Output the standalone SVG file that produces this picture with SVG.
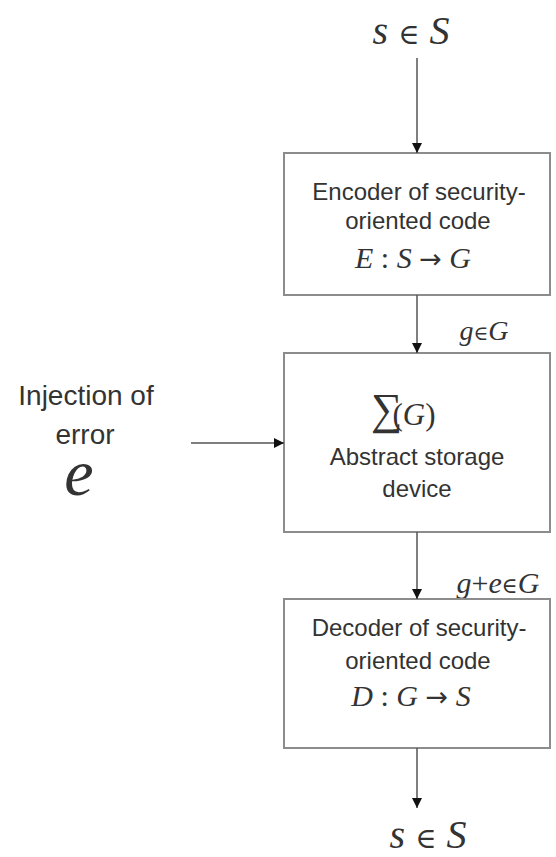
<svg xmlns="http://www.w3.org/2000/svg" width="556" height="857" viewBox="0 0 556 857">
<defs>
<marker id="ah" viewBox="0 0 10 10" refX="10" refY="5" markerWidth="10" markerHeight="10" markerUnits="userSpaceOnUse" orient="auto">
<path d="M0,0 L10,5 L0,10 z" fill="#111"/>
</marker>
</defs>
<style>
.box{fill:#fff;stroke:#8c8c8c;stroke-width:2}
.sans{font-family:"Liberation Sans",Arial,sans-serif;fill:#333;text-anchor:middle}
.math{font-family:"Liberation Serif","Times New Roman",serif;font-style:italic;fill:#333;text-anchor:middle}
.up{font-style:normal}
.el{font-style:normal;font-family:"DejaVu Serif",serif;font-size:0.72em}
.ar{font-style:normal;font-family:"DejaVu Sans",sans-serif;font-size:0.9em}
.conn line{stroke:#555;stroke-width:1.5;marker-end:url(#ah)}
</style>
<rect width="556" height="857" fill="#fff"/>
<g id="input">
<text class="math" x="411" y="44" font-size="40">s <tspan class="el">∈</tspan> S</text>
</g>
<g id="encoder">
<rect class="box" x="284" y="153" width="266" height="142"/>
<text class="sans" x="419" y="200" font-size="24">Encoder of security-</text>
<text class="sans" x="418" y="229" font-size="24">oriented code</text>
<text class="math" x="413" y="268" font-size="30">E <tspan class="up">:</tspan> S <tspan class="ar">→</tspan> G</text>
</g>
<g id="label-g">
<text class="math" x="484" y="340" font-size="28">g<tspan class="el">∈</tspan>G</text>
</g>
<g id="storage">
<rect class="box" x="284" y="353" width="266" height="179"/>
<text x="371" y="424" font-size="44" font-family="'Liberation Serif',serif" fill="#333">∑</text>
<text class="math" x="414" y="425" font-size="31" text-anchor="start"><tspan class="up">(</tspan>G<tspan class="up">)</tspan></text>
<text class="sans" x="417" y="465" font-size="24">Abstract storage</text>
<text class="sans" x="417" y="497" font-size="24">device</text>
</g>
<g id="injection">
<text class="sans" x="86" y="405" font-size="28">Injection of</text>
<text class="sans" x="85" y="444" font-size="28">error</text>
<text class="math" x="79" y="495" font-size="66">e</text>
</g>
<g id="label-ge">
<text class="math" x="498" y="593" font-size="30">g<tspan class="up">+</tspan>e<tspan class="el">∈</tspan>G</text>
</g>
<g id="decoder">
<rect class="box" x="284" y="599" width="266" height="149"/>
<text class="sans" x="419" y="636" font-size="24">Decoder of security-</text>
<text class="sans" x="418" y="669" font-size="24">oriented code</text>
<text class="math" x="411" y="706" font-size="30">D <tspan class="up">:</tspan> G <tspan class="ar">→</tspan> S</text>
</g>
<g id="output">
<text class="math" x="428" y="848" font-size="40">s <tspan class="el">∈</tspan> S</text>
</g>
<g class="conn" id="connectors">
<line x1="417" y1="58" x2="417" y2="153"/>
<line x1="417" y1="295" x2="417" y2="353"/>
<line x1="191" y1="443" x2="284" y2="443"/>
<line x1="417" y1="532" x2="417" y2="599"/>
<line x1="417" y1="748" x2="417" y2="808"/>
</g>
</svg>
